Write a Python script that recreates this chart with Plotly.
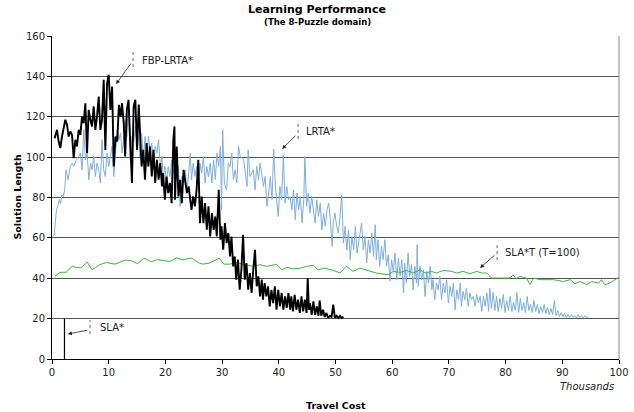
import plotly.graph_objects as go

# ---------------- data (Travel Cost in thousands, Solution Length) ----------------
lrta_x = [0.35, 0.55, 0.8, 1.05, 1.3, 1.5, 1.76, 2.0, 2.24, 2.47, 2.82, 3.24, 3.53, 3.82, 4.12, 4.41, 4.7, 5.0,
          5.3, 5.6, 5.9, 6.2, 6.5, 6.8, 7.06, 7.35, 7.65, 7.94, 8.24, 8.53, 8.82, 9.12, 9.41, 9.71, 10.0, 10.3,
          10.6, 10.9, 11.2, 11.5, 11.8, 12.1, 12.35, 12.65, 12.9, 13.2, 13.5, 13.8, 14.1, 14.4, 14.7, 15.0, 15.3,
          15.5, 15.8, 16.1, 16.4, 16.7, 17.0, 17.3, 17.6, 17.9, 18.2, 18.5, 18.8, 19.1, 19.4, 19.6, 19.9, 20.2,
          20.5, 20.8, 21.1, 21.4, 21.7, 22.0, 22.3, 22.6, 22.9, 23.2, 23.5, 23.8, 24.1, 24.4, 24.6, 24.9, 25.2,
          25.5, 25.8, 26.1, 26.4, 26.7, 27.0, 27.3, 27.6, 27.9, 28.2, 28.5, 28.8, 29.1, 29.4, 29.7, 29.9, 30.1,
          30.4, 30.8, 31.1, 31.4, 31.7, 32.0, 32.3, 32.6, 32.9, 33.2, 33.8, 34.4, 34.6, 34.9, 35.5, 35.8, 36.1,
          36.4, 36.7, 37.3, 37.6, 37.9, 38.2, 38.5, 38.8, 39.1, 39.4, 39.6, 39.9, 40.2, 40.5, 40.8, 41.1, 41.4,
          41.7, 42.0, 42.3, 42.6, 42.9, 43.2, 43.5, 43.8, 44.1, 44.4, 44.6, 44.9, 45.2, 45.5, 45.8, 46.1, 46.4,
          46.7, 47.0, 47.3, 47.6, 47.9, 48.2, 48.5, 48.8, 49.1, 49.4, 49.6, 49.9, 50.2, 50.5, 50.8, 51.1, 51.4,
          51.7, 52.0, 52.3, 52.6, 52.9, 53.2, 53.5, 53.8, 54.3, 54.6, 54.9, 55.2, 55.5, 55.8, 56.1, 56.4, 56.7,
          57.0, 57.2, 57.5, 57.8, 58.1, 58.4, 58.7, 59.0, 59.3, 59.6, 59.9, 60.2, 60.5, 60.8, 61.1, 61.4, 61.7,
          62.0, 62.2, 62.5, 62.8, 63.1, 63.4, 63.7, 64.0, 64.3, 64.4, 64.6, 64.9, 65.2, 65.5, 65.8, 66.1, 66.4,
          66.7, 67.0, 67.2, 67.5, 67.8, 68.1, 68.4, 68.7, 69.0, 69.3, 69.6, 69.9, 70.2, 70.5, 70.8, 71.1, 71.4,
          71.7, 72.0, 72.2, 72.5, 72.8, 73.1, 73.4, 73.7, 74.0, 74.3, 74.6, 74.9, 75.2, 75.5, 75.8, 76.1, 76.4,
          76.7, 77.0, 77.2, 77.5, 77.8, 78.1, 78.4, 78.7, 79.0, 79.3, 79.6, 79.9, 80.2, 80.5, 80.8, 81.1, 81.4,
          81.7, 82.0, 82.3, 82.6, 82.9, 83.2, 83.5, 83.8, 84.1, 84.4, 84.7, 85.0, 85.3, 85.6, 85.9, 86.2, 86.5,
          86.8, 87.1, 87.4, 87.7, 88.0, 88.3, 88.6, 88.9, 89.2, 89.5, 89.8, 90.1, 90.4, 90.7, 91.0, 91.3, 91.6,
          91.9, 92.2, 92.5, 92.8, 93.1, 93.4, 93.7, 94.0, 94.3, 94.6]
lrta_y = [61, 68, 74, 76, 79, 77, 81.3, 80.5, 83.8, 93.7, 88.8, 95.4, 97, 95.4, 97.8, 99.5, 100.3, 102,
          93.7, 113.5, 98.6, 102, 88.8, 97, 93.7, 100.3, 90.4, 97, 93.7, 87.2, 108.6, 93.7, 90.4, 102, 95.4, 100.3,
          105.3, 90.4, 103.6, 113.5, 108.6, 111.9, 102, 108.6, 118.5, 110.2, 125.1, 98.6, 110.2, 107, 115.2, 105.3, 110.2,
          100.3, 111.9, 98.7, 110.2, 95.4, 110.2, 103.6, 107, 95.4, 105.3, 102, 108.6, 95.4, 100.3, 88.8, 95.4, 87.2,
          95.4, 90.4, 98.7, 92.1, 95.4, 88.8, 95.4, 75.6, 90.4, 87.2, 93.7, 82.2, 92.1, 102, 88.8, 97, 90.4,
          95.4, 85.5, 97, 92.1, 100.3, 87.2, 95.4, 90.4, 97, 87.2, 98.7, 88.8, 102, 95.4, 105.3, 73.9, 113.5,
          87.2, 83.8, 97, 95.4, 102, 88.8, 93.7, 87.2, 105.3, 100.3, 98.7, 85.5, 103.6, 90.4, 93.7, 83.8, 95.4,
          88.8, 97, 85.5, 90.4, 75.6, 82.2, 90.4, 78.9, 104, 85.5, 80.5, 70.6, 85.5, 78.9, 101.2, 77.2, 85.5,
          78.9, 80.5, 73.9, 83.8, 69, 82.2, 73.9, 80.5, 67.3, 78.9, 100.3, 75.6, 82.2, 72.3, 80.5, 73.9, 67.3,
          78.9, 70.6, 77.2, 64, 72.3, 65.7, 73.9, 77.2, 69, 55.8, 67.3, 72.3, 65.7, 62.4, 70.6, 81.3, 57.4,
          65.7, 54.1, 64, 49.2, 60.7, 54.1, 65.7, 52.5, 62.4, 67.3, 54.1, 60.7, 47.5, 59.1, 52.5, 62.4, 50.8,
          66.5, 49.2, 59.1, 45.9, 55.8, 49.2, 59.1, 45.9, 51.7, 38.5, 49.2, 43.4, 52.5, 39.3, 50, 41, 49.2,
          32.7, 47.5, 37.6, 52.5, 41, 46.7, 34.3, 45.9, 37.6, 56.6, 36, 45.9, 39.3, 44.2, 31, 43.4, 37.6,
          45.9, 34.3, 39.3, 29.4, 37.6, 34.3, 41, 29.4, 37.6, 32.7, 39.3, 27.7, 36, 31, 37.6, 24.4, 34.3,
          29.4, 37.6, 26.1, 33.5, 29.4, 35.2, 26.1, 32.7, 29.4, 31, 26.1, 31.9, 27.7, 31, 23.6, 31, 26.1,
          32.7, 23.6, 35.2, 25, 33, 24, 31, 23.5, 30, 25, 32, 23, 29, 24, 31, 23.5, 28,
          24, 33, 23, 30, 24, 28, 23, 31, 24, 27, 23, 29, 23.5, 27, 22.5, 26, 23,
          27, 22.5, 25.5, 22, 25, 22, 29, 21.5, 24, 21, 23, 21, 22.5, 20.5, 22, 20.5, 22,
          20.5, 21.5, 20.3, 22, 20.5, 21.5, 20.3, 21.5, 20.5, 21]

fbp_x = [0.47, 0.88, 1.18, 1.47, 1.76, 2.06, 2.35, 2.65, 2.94, 3.24, 3.53, 3.82, 4.12, 4.41, 4.71, 5.0, 5.29,
         5.59, 5.88, 6.18, 6.47, 6.76, 7.06, 7.35, 7.65, 7.94, 8.24, 8.53, 8.82, 9.12, 9.41, 9.71, 10.0, 10.3,
         10.6, 10.9, 11.2, 11.5, 11.8, 12.1, 12.35, 12.65, 12.9, 13.2, 13.5, 13.8, 14.1, 14.4, 14.7, 15.0, 15.3,
         15.8, 16.1, 16.4, 16.7, 17.0, 17.3, 17.6, 17.9, 18.2, 18.5, 18.8, 19.1, 19.4, 19.6, 19.9, 20.2, 20.5,
         20.8, 21.1, 21.4, 21.6, 21.7, 22.0, 22.3, 22.6, 22.9, 23.2, 23.5, 23.8, 24.1, 24.4, 24.6, 24.9, 25.2,
         25.5, 25.8, 26.1, 26.4, 26.7, 27.0, 27.3, 27.6, 27.9, 28.2, 28.5, 28.8, 29.06, 29.4, 29.7, 29.9, 30.2,
         30.5, 30.8, 31.1, 31.4, 31.65, 31.95, 32.24, 32.5, 32.8, 33.1, 33.4, 33.7, 34.0, 34.3, 34.6, 34.9, 35.2,
         35.5, 35.8, 36.1, 36.4, 36.7, 37.0, 37.2, 37.5, 37.8, 38.1, 38.4, 38.7, 39.0, 39.3, 39.6, 39.9, 40.2,
         40.5, 40.8, 41.1, 41.4, 41.7, 42.0, 42.2, 42.5, 42.8, 43.1, 43.4, 43.7, 44.0, 44.3, 44.6, 44.9, 45.1,
         45.3, 45.5, 45.8, 46.1, 46.4, 46.7, 47.0, 47.2, 47.5, 47.8, 48.1, 48.4, 48.7, 49.0, 49.3, 49.6, 49.9,
         50.2, 50.5, 50.8, 51.1, 51.4]
fbp_y = [109.4, 113.5, 107.7, 104.5, 110.2, 114.3, 118.5, 116, 110.2, 112.7, 111, 99.5, 108.6, 105.3, 113.5, 111, 120.1,
         116.8, 126.7, 102, 123.4, 118.5, 115.2, 125.1, 113.5, 120.1, 130, 113.5, 118.5, 138.3, 103.6, 136.6, 140.8, 123.4,
         135, 95.4, 110.2, 107.7, 125.9, 120.1, 126.7, 116.8, 100.3, 123.4, 128.4, 107, 87.2, 125.1, 128.4, 103.6, 126,
         95.4, 103.6, 88.8, 107, 95.4, 105.3, 90.4, 103.6, 87.2, 98.7, 88.8, 97, 85.5, 92.1, 78.9, 90.4, 82.2,
         87.2, 77.2, 108.6, 115.2, 78.9, 105.3, 80.5, 88.8, 77.2, 93.7, 87.2, 82.2, 85.5, 78.9, 73.9, 80.5, 75.6,
         83.8, 98.7, 67.3, 80.5, 67.3, 77.2, 64, 75.6, 60.7, 72.3, 64, 70.6, 60.7, 83.8, 59.1, 65.7, 54.1,
         67.3, 57.4, 62.4, 50.8, 60.7, 45.9, 50.8, 39.3, 49.2, 34.3, 44.2, 61.5, 39.3, 47.5, 34.3, 42.6, 32.7,
         44.2, 54.1, 36, 40.9, 31, 39.3, 29.4, 37.6, 31, 36, 26.1, 34.3, 27.7, 36, 24.4, 34.3, 26.1,
         32.7, 24.4, 31, 25.3, 32.7, 24.4, 31, 23.6, 31.8, 24.4, 29.4, 22.8, 31, 23.6, 29.4, 22.8, 40.1,
         24.4, 27.7, 21.9, 28.5, 21.9, 26.1, 21.4, 29, 21.4, 24.4, 20.8, 22.8, 20.3, 21.4, 20.8, 26.9, 20.3,
         21.4, 20.3, 21.4, 20.3, 21]

slat_x = [0.5, 1.4, 2.5, 3.6, 4.3, 5.2, 6.2, 7.1, 8.4, 9.6, 11.1, 11.9, 13.0, 14.0, 15.1, 16.2, 17.5, 18.6,
          19.8, 20.8, 21.9, 23.1, 24.6, 25.8, 26.6, 27.8, 29.5, 30.3, 31.4, 32.5, 34.0, 35.5, 36.7, 37.8, 39.0,
          39.6, 40.5, 41.4, 42.5, 43.7, 44.9, 46.1, 46.9, 48.1, 49.6, 50.8, 51.9, 53.1, 54.3, 55.5, 57.2, 59.3,
          60.2, 61.4, 62.5, 63.7, 64.9, 65.8, 66.9, 67.8, 69.0, 70.5, 71.4, 72.5, 73.7, 74.9, 75.8, 76.7, 77.5,
          79.0, 80.8, 81.3, 81.9, 82.5, 83.7, 84.3, 84.9, 86.1, 87.2, 88.4, 90.2, 91.4, 92.2, 93.1, 94.3, 95.2,
          96.4, 96.9, 97.5, 98.4, 99.3, 100]
slat_y = [40.9, 42.9, 43, 46, 45.3, 45.2, 48, 44.2, 46.7, 47.8, 47, 47.8, 49, 48.7, 47.2, 50, 48.2, 49.2,
          48.8, 48.3, 50, 49.2, 50, 47.8, 47, 47.5, 50, 47, 47, 47.8, 46.7, 45.9, 46.7, 45.9, 46.5,
          47, 44.2, 45.4, 44.6, 45, 45.9, 46.4, 44.2, 45, 43.9, 42.6, 45.9, 43.4, 45, 43.9, 42.6, 41.7,
          43.4, 42.9, 43.9, 42.6, 44.2, 42.6, 43.4, 42.6, 43.9, 43.4, 42.6, 43.4, 42.2, 43.4, 42.6, 42.6, 40.1,
          40.1, 40.1, 41.7, 39.8, 40.9, 40.1, 36.8, 40.1, 39.3, 39.3, 39.3, 38.4, 39.3, 37.3, 38.4, 36.8, 38.4,
          37.6, 39.3, 36.8, 37.6, 39.3, 40.5]

sla_x = [2.2, 2.2]
sla_y = [20, 0]

x_ticks = [0, 10, 20, 30, 40, 50, 60, 70, 80, 90, 100]
y_ticks = [0, 20, 40, 60, 80, 100, 120, 140, 160]

FONT = "DejaVu Sans"

fig = go.Figure()
fig.add_trace(go.Scatter(x=lrta_x, y=lrta_y, mode="lines", name="LRTA*",
                         line=dict(color="#7DAFE0", width=1)))
fig.add_trace(go.Scatter(x=slat_x, y=slat_y, mode="lines", name="SLA*T (T=100)",
                         line=dict(color="#3DB53D", width=1)))
fig.add_trace(go.Scatter(x=fbp_x, y=fbp_y, mode="lines", name="FBP-LRTA*",
                         line=dict(color="#000000", width=1.9)))
fig.add_trace(go.Scatter(x=sla_x, y=sla_y, mode="lines", name="SLA*",
                         line=dict(color="#000000", width=1.2)))

# labels: (text, text_x, text_y, bar_x, bar_y0, bar_y1, tail_x, tail_y, tip_x, tip_y)
labels = [
    ("FBP-LRTA*", 15.5, 148.1, 14.3, 144.6, 152.1, 14.1, 147.1, 11.3, 136.2),
    ("LRTA*", 44.5, 112.9, 43.4, 109.0, 116.4, 43.2, 111.4, 40.6, 104.0),
    ("SLA*T (T=100)", 79.6, 53.0, 78.5, 49.0, 56.5, 78.3, 52.0, 75.5, 45.1),
    ("SLA*", 8.1, 15.8, 6.7, 12.4, 19.3, 6.5, 14.4, 2.8, 12.4),
]
annotations = []
shapes = []
for t, tx, ty, bx, by0, by1, ax_, ay_, px, py in labels:
    annotations.append(dict(x=tx, y=ty, xref="x", yref="y", text=t, showarrow=False,
                            xanchor="left", yanchor="middle",
                            font=dict(family=FONT, size=10, color="#222")))
    annotations.append(dict(x=px, y=py, xref="x", yref="y", ax=ax_, ay=ay_, axref="x", ayref="y",
                            text="", showarrow=True, arrowhead=2, arrowsize=1, arrowwidth=0.8,
                            arrowcolor="#222"))
    shapes.append(dict(type="line", xref="x", yref="y", x0=bx, x1=bx, y0=by0, y1=by1,
                       line=dict(color="#666", width=1, dash="dot")))

# right border of plot area
shapes.append(dict(type="line", xref="paper", yref="paper", x0=1, x1=1, y0=0, y1=1,
                   line=dict(color="#888", width=1)))

# plot area: x 52..619 px, y 36..359 px
annotations += [
    dict(x=(317 - 52) / 567, y=(359 - 10) / 323, xref="paper", yref="paper",
         text="<b>Learning Performance</b>", showarrow=False, xanchor="center", yanchor="middle",
         font=dict(family=FONT, size=11, color="#000")),
    dict(x=(317 - 52) / 567, y=(359 - 22) / 323, xref="paper", yref="paper",
         text="<b>(The 8-Puzzle domain)</b>", showarrow=False, xanchor="center", yanchor="middle",
         font=dict(family=FONT, size=8.5, color="#000")),
    dict(x=(17 - 52) / 567, y=0.5, xref="paper", yref="paper", text="<b>Solution Length</b>",
         showarrow=False, textangle=-90, xanchor="center", yanchor="middle",
         font=dict(family=FONT, size=9.5, color="#000")),
    dict(x=0.5, y=(359 - 405) / 323, xref="paper", yref="paper", text="<b>Travel Cost</b>",
         showarrow=False, xanchor="center", yanchor="middle",
         font=dict(family=FONT, size=9.5, color="#000")),
    dict(x=(616 - 52) / 567, y=(359 - 386) / 323, xref="paper", yref="paper", text="<i>Thousands</i>",
         showarrow=False, xanchor="right", yanchor="middle",
         font=dict(family=FONT, size=10, color="#222")),
]

fig.update_layout(
    width=634, height=412,
    margin=dict(l=52, r=15, t=36, b=53, autoexpand=False),
    paper_bgcolor="white", plot_bgcolor="white",
    showlegend=False,
    font=dict(family=FONT, size=10, color="#222"),
    xaxis=dict(range=[0, 100], tickvals=x_ticks, showgrid=False, zeroline=False, automargin=False,
               showline=True, linecolor="#000", linewidth=1, ticks="outside", ticklen=4,
               tickcolor="#000", tickfont=dict(family=FONT, size=10, color="#222")),
    yaxis=dict(range=[0, 160], tickvals=y_ticks, showgrid=True, gridcolor="#555", gridwidth=1.3,
               zeroline=False, showline=True, linecolor="#000", linewidth=1, ticks="outside",
               automargin=False, ticklen=4, tickcolor="#000",
               tickfont=dict(family=FONT, size=10, color="#222")),
    annotations=annotations,
    shapes=shapes,
)

fig.write_html("out.html", config={"displayModeBar": False})

# remove the browser's default page margin so the figure sits at the window's corner
with open("out.html", "r", encoding="utf-8") as f:
    html = f.read()
html = html.replace("<head>", "<head><style>html,body{margin:0;padding:0;overflow:hidden;}</style>", 1)
with open("out.html", "w", encoding="utf-8") as f:
    f.write(html)
